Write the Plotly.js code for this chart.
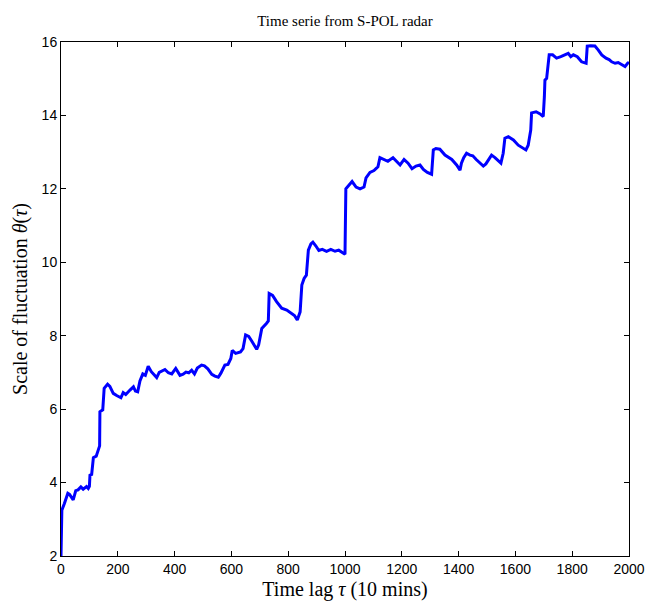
<!DOCTYPE html>
<html>
<head>
<meta charset="utf-8">
<script src="https://cdn.plot.ly/plotly-3.0.1.min.js"></script>
<style>
  html, body { margin: 0; padding: 0; background: #fff; }
  #chart { width: 649px; height: 606px; }
</style>
</head>
<body>
<div id="chart"></div>
<script>
// Time lag tau (units of 10 minutes)
const timeLag = [
  0, 3, 12, 24, 30, 43, 52, 60, 70, 78, 90, 96, 100, 102, 108, 114, 124, 132, 136, 137,
  147, 152, 164, 172, 184, 196, 211, 219, 228, 243, 255, 262, 270, 278, 288, 297, 307, 318, 337, 346,
  366, 378, 390, 404, 419, 430, 440, 450, 460, 470, 480, 495, 505, 517, 531, 542, 554, 563, 577, 588,
  598, 603, 615, 632, 641, 650, 661, 672, 689, 696, 707, 724, 730, 733, 745, 759, 777, 795, 812, 822,
  832, 842, 848, 856, 864, 871, 880, 887, 897, 908, 920, 935, 950, 965, 978, 993, 1000, 1003, 1014, 1025,
  1039, 1053, 1067, 1074, 1088, 1102, 1109, 1116, 1123, 1137, 1151, 1169, 1180, 1194, 1208, 1222, 1236, 1250, 1264, 1276,
  1290, 1305, 1311, 1320, 1334, 1352, 1376, 1393, 1405, 1410, 1418, 1428, 1440, 1450, 1462, 1475, 1487, 1496, 1505, 1516,
  1528, 1540, 1549, 1557, 1563, 1575, 1593, 1610, 1628, 1637, 1645, 1654, 1657, 1673, 1687, 1698, 1702, 1704, 1710, 1716,
  1719, 1731, 1745, 1760, 1775, 1786, 1795, 1804, 1818, 1833, 1849, 1853, 1865, 1880, 1892, 1904, 1919, 1930, 1939, 1951,
  1962, 1975, 1986, 1995, 2000
];

// Scale of fluctuation theta(tau)
const scaleOfFluctuation = [
  2.00, 3.25, 3.43, 3.71, 3.68, 3.53, 3.78, 3.80, 3.88, 3.82, 3.89, 3.84, 3.90, 4.20, 4.22, 4.68, 4.72, 4.93, 5.00, 5.93,
  5.98, 6.57, 6.68, 6.62, 6.43, 6.37, 6.31, 6.45, 6.40, 6.52, 6.61, 6.49, 6.47, 6.77, 6.96, 6.92, 7.17, 7.02, 6.86, 7.00,
  7.08, 6.99, 6.96, 7.11, 6.92, 6.95, 7.01, 6.99, 7.06, 6.96, 7.12, 7.20, 7.18, 7.10, 6.95, 6.90, 6.87, 6.98, 7.20, 7.22,
  7.38, 7.60, 7.52, 7.56, 7.65, 8.02, 7.98, 7.85, 7.63, 7.75, 8.20, 8.34, 8.40, 9.15, 9.10, 8.93, 8.75, 8.70, 8.61, 8.55,
  8.43, 8.65, 9.38, 9.56, 9.65, 10.33, 10.50, 10.55, 10.45, 10.32, 10.35, 10.30, 10.35, 10.30, 10.33, 10.25, 10.22, 12.00, 12.10, 12.20,
  12.05, 12.00, 12.05, 12.30, 12.45, 12.50, 12.55, 12.60, 12.85, 12.80, 12.75, 12.85, 12.75, 12.65, 12.80, 12.70, 12.55, 12.62, 12.65, 12.53,
  12.45, 12.40, 13.06, 13.10, 13.08, 12.92, 12.80, 12.65, 12.51, 12.70, 12.85, 12.97, 12.92, 12.90, 12.80, 12.70, 12.62, 12.68, 12.80, 12.92,
  12.85, 12.77, 12.70, 12.97, 13.38, 13.42, 13.33, 13.19, 13.10, 13.06, 13.19, 13.60, 14.07, 14.10, 14.04, 13.97, 14.51, 14.96, 15.01, 15.51,
  15.65, 15.65, 15.56, 15.60, 15.65, 15.69, 15.60, 15.65, 15.60, 15.46, 15.42, 15.89, 15.90, 15.89, 15.78, 15.65, 15.56, 15.52, 15.46, 15.42,
  15.44, 15.38, 15.33, 15.42, 15.45
];

const xTickVals = [0, 200, 400, 600, 800, 1000, 1200, 1400, 1600, 1800, 2000];
const yTickVals = [2, 4, 6, 8, 10, 12, 14, 16];

const trace = {
  x: timeLag,
  y: scaleOfFluctuation,
  type: 'scatter',
  mode: 'lines',
  line: { color: '#0000ff', width: 3 },
  hoverinfo: 'skip'
};

const serif = '"Liberation Serif", "DejaVu Serif", serif';
const sans = '"Liberation Sans", Arial, sans-serif';

const axisCommon = {
  showgrid: false,
  zeroline: false,
  showline: true,
  linecolor: '#000',
  linewidth: 1,
  mirror: 'ticks',
  ticks: 'inside',
  ticklen: 5,
  tickwidth: 1,
  tickcolor: '#000',
  tickfont: { family: sans, size: 14, color: '#000' }
};

const layout = {
  width: 649,
  height: 606,
  margin: { l: 61, r: 20, t: 42, b: 50 },
  paper_bgcolor: '#fff',
  plot_bgcolor: '#fff',
  showlegend: false,
  title: {
    text: 'Time serie from S-POL radar',
    font: { family: serif, size: 15, color: '#000' },
    xref: 'paper',
    x: 0.5,
    xanchor: 'center',
    yref: 'paper',
    y: 1,
    yanchor: 'bottom',
    pad: { b: 16 }
  },
  xaxis: Object.assign({}, axisCommon, {
    range: [0, 2000],
    tickvals: xTickVals,
    ticktext: xTickVals.map(String),
    title: {
      text: 'Time lag <i>τ</i> (10 mins)',
      font: { family: serif, size: 20, color: '#000' },
      standoff: 6
    }
  }),
  yaxis: Object.assign({}, axisCommon, {
    range: [2, 16],
    tickvals: yTickVals,
    ticktext: yTickVals.map(String),
    title: {
      text: 'Scale of fluctuation <i>θ</i>(<i>τ</i>)',
      font: { family: serif, size: 20, color: '#000' },
      standoff: 8
    }
  })
};

Plotly.newPlot('chart', [trace], layout, { displayModeBar: false, staticPlot: true });
</script>
</body>
</html>
